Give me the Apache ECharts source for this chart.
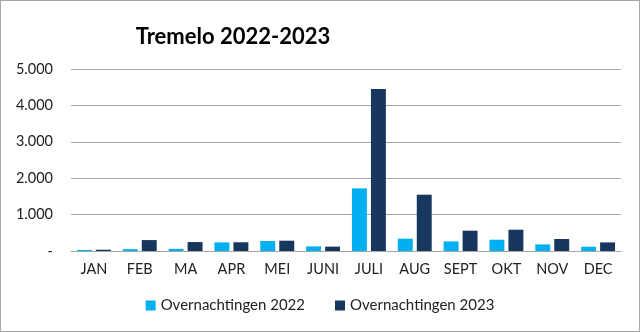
<!DOCTYPE html>
<html>
<head>
<meta charset="utf-8">
<script src="https://cdn.jsdelivr.net/npm/echarts@6/dist/echarts.min.js"></script>
<style>
html,body{margin:0;padding:0;background:#fff;}
#c{width:638px;height:330px;border:1px solid #a6a6a6;}
</style>
</head>
<body>
<div id="c"></div>
<script>
var categories = ['JAN','FEB','MA','APR','MEI','JUNI','JULI','AUG','SEPT','OKT','NOV','DEC'];
var values2022 = [30, 50, 60, 236, 275, 126, 1720, 338, 264, 310, 181, 118];
var values2023 = [35, 300, 245, 240, 283, 120, 4450, 1547, 558, 585, 330, 236];
var seriesNames = ['Overnachtingen 2022', 'Overnachtingen 2023'];
var titleText = 'Tremelo 2022-2023';

var chart = echarts.init(document.getElementById('c'));
function fmt(v){
  if (v === 0) return '-';
  return String(v).replace(/\B(?=(\d{3})+(?!\d))/g, '.');
}
var font = 'Lato, "Open Sans", sans-serif';
chart.setOption({
  animation: false,
  title: {
    text: titleText,
    left: 227, top: 20, textAlign: 'center',
    textStyle: {fontFamily: font, fontSize: 22, fontWeight: 'bold', color: '#000'}
  },
  legend: {
    bottom: 13, left: 'center',
    itemWidth: 10, itemHeight: 10, itemGap: 30,
    icon: 'rect',
    textStyle: {fontFamily: font, fontSize: 15, color: '#222'},
    data: seriesNames
  },
  grid: {left: 70, right: 18, top: 68, bottom: 80},
  xAxis: {
    type: 'category', data: categories,
    axisLine: {lineStyle: {color: '#a6a6a6', width: 1}},
    axisTick: {show: false},
    axisLabel: {fontFamily: font, fontSize: 14.5, color: '#222', margin: 11}
  },
  yAxis: {
    type: 'value', min: 0, max: 5000, interval: 1000,
    axisLine: {show: false}, axisTick: {show: false},
    splitLine: {lineStyle: {color: '#a6a6a6', width: 1}},
    axisLabel: {fontFamily: font, fontSize: 14.5, color: '#222', margin: 18, formatter: fmt}
  },
  series: [
    {name: seriesNames[0], type: 'bar', data: values2022, itemStyle: {color: '#00b0f0'}, barGap: '27%', barCategoryGap: '26%'},
    {name: seriesNames[1], type: 'bar', data: values2023, itemStyle: {color: '#17375e'}}
  ]
});
</script>
</body>
</html>
